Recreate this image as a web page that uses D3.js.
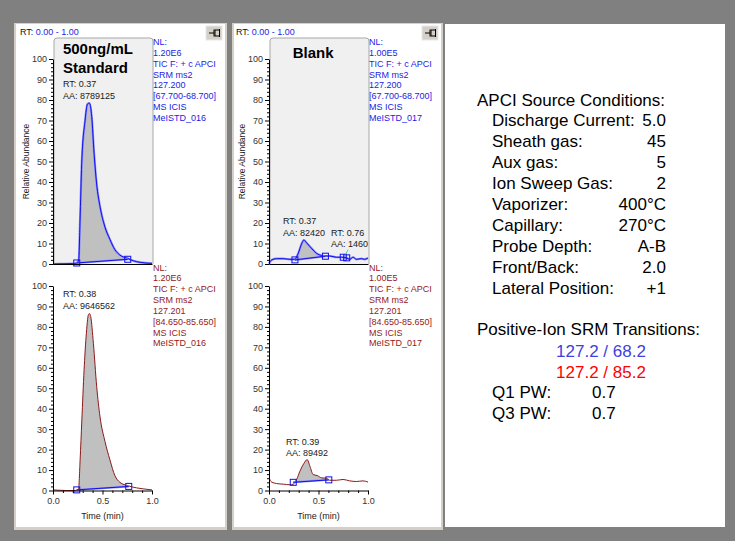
<!DOCTYPE html>
<html><head><meta charset="utf-8">
<script src="https://cdn.jsdelivr.net/npm/d3@7"></script>
<style>body{margin:0;background:#808080;} svg{display:block;font-family:Arial,"Liberation Sans",sans-serif;}</style>
</head><body><svg id="c" width="735" height="541"></svg>
<script>
// ---------- data ----------
const timeTicks = [0, 0.5, 1.0];
const timeMinor = [0.1,0.2,0.3,0.4,0.6,0.7,0.8,0.9];
const abundTicks = [0,10,20,30,40,50,60,70,80,90,100];
const abundMinor = [2,4,6,8,12,14,16,18,22,24,26,28,32,34,36,38,42,44,46,48,52,54,56,58,62,64,66,68,72,74,76,78,82,84,86,88,92,94,96,98];

// 500 ng/mL standard, 127.2 / 68.2
const std682Time  = [0,0.1,0.2,0.24,0.26,0.273,0.29,0.324,0.348,0.368,0.391,0.415,0.441,0.475,0.525,0.575,0.625,0.675,0.75,0.81,0.88,1.0];
const std682Abund = [0,0.1,0.2,0.5,2,21,49,70,78,78.5,72,54,39,28,18,12,7,4.4,2.8,1.6,0.8,0.3];
// 500 ng/mL standard, 127.2 / 85.2
const std852Time  = [0,0.14,0.224,0.258,0.274,0.291,0.314,0.334,0.358,0.368,0.381,0.408,0.441,0.475,0.525,0.575,0.625,0.676,0.759,0.843,0.91,1.0];
const std852Abund = [0.3,0,0,0.8,15,34,59,75,86,86.5,85,72,51,36,24,15,7.3,4,2.3,1.3,0.8,0.3];
// Blank, 127.2 / 68.2
const blank682Time  = [0,0.027,0.077,0.144,0.211,0.262,0.295,0.329,0.352,0.379,0.413,0.446,0.48,0.513,0.564,0.614,0.681,0.732,0.782,0.815,0.849,0.883,0.933,0.966,1.0];
const blank682Abund = [0.3,2,2.6,2.6,2.3,2.3,5.2,9.8,11.7,10.4,8.5,6.8,5.2,4.4,3.9,3.9,3.3,3.3,3,2.3,3.3,2.3,2.6,2.3,2.9];
// Blank, 127.2 / 85.2
const blank852Time  = [0,0.027,0.077,0.144,0.211,0.245,0.279,0.312,0.352,0.386,0.413,0.446,0.487,0.53,0.58,0.614,0.681,0.748,0.815,0.883,0.95,1.0];
const blank852Abund = [6.2,4.1,3.4,3.1,2.8,3.1,5.4,9.4,13.2,15.1,11.9,7.8,7.3,6.2,6,5,5,5.4,4.7,4.4,4.7,4.1];

// integrated peaks: [startTime, startAbund, endTime, endAbund]
const std682Peaks   = [[0.24,0.5,0.755,2.3]];
const std852Peaks   = [[0.24,0.3,0.765,2.0]];
const blank682Peaks = [[0.262,2.0,0.57,3.8],[0.75,3.3,0.785,3.0]];
const blank852Peaks = [[0.245,4.0,0.604,5.2]];

// peak annotations
const std682Labels   = [["RT: 0.37","AA: 8789125"]];
const std852Labels   = [["RT: 0.38","AA: 9646562"]];
const blank682Labels = [["RT: 0.37","AA: 82420"],["RT: 0.76","AA: 1460"]];
const blank852Labels = [["RT: 0.39","AA: 89492"]];
// annotation anchors in data units [time, abundance]
const std682LabelAt   = [[0.1,86.3]];
const std852LabelAt   = [[0.1,94.6]];
const blank682LabelAt = [[0.141,19.5],[0.626,13.7]];
const blank852LabelAt = [[0.172,22.4]];

const nlStd682   = ["NL:","1.20E6","TIC F: + c APCI","SRM ms2","127.200","[67.700-68.700]","MS  ICIS","MeISTD_016"];
const nlStd852   = ["NL:","1.20E6","TIC F: + c APCI","SRM ms2","127.201","[84.650-85.650]","MS  ICIS","MeISTD_016"];
const nlBlank682 = ["NL:","1.00E5","TIC F: + c APCI","SRM ms2","127.200","[67.700-68.700]","MS  ICIS","MeISTD_017"];
const nlBlank852 = ["NL:","1.00E5","TIC F: + c APCI","SRM ms2","127.201","[84.650-85.650]","MS  ICIS","MeISTD_017"];

const panelTitles = [["500ng/mL","Standard"],["Blank"]];
const rtRange = "0.00 - 1.00";

const condHeader = "APCI Source Conditions:";
const condLabels = ["Discharge Current:","Sheath gas:","Aux gas:","Ion Sweep Gas:","Vaporizer:","Capillary:","Probe Depth:","Front/Back:","Lateral Position:"];
const condValues = ["5.0","45","5","2","400°C","270°C","A-B","2.0","+1"];
const srmHeader = "Positive-Ion SRM Transitions:";
const srmTransitions = ["127.2 / 68.2","127.2 / 85.2"];
const pwLabels = ["Q1 PW:","Q3 PW:"];
const pwValues = ["0.7","0.7"];

// ---------- drawing ----------
const svg = d3.select("#c");
const BLUE = "#1010e8", LBLUE = "#8c8cff", RED = "#8b1a1a", NLBLUE = "#1c1ce6", NLRED = "#962020";

svg.append("rect").attr("width",735).attr("height",541).attr("fill","#808080");
// panel frames
function frame(x,y,w,h){
  svg.append("rect").attr("x",x-2).attr("y",y-1).attr("width",w+4).attr("height",h+4).attr("fill","#d4d0c8");
  svg.append("rect").attr("x",x).attr("y",y).attr("width",w).attr("height",h).attr("fill","#fff");
}
frame(16,24,209,503);
frame(234,24,207,503);
svg.append("rect").attr("x",445).attr("y",24).attr("width",280).attr("height",503).attr("fill","#fff");

function pin(x,y){
  const g = svg.append("g").attr("transform",`translate(${x},${y})`);
  g.append("rect").attr("width",16).attr("height",14).attr("fill","#d4d0c8").attr("stroke","#e8e8e8");
  g.append("line").attr("x1",3).attr("x2",8).attr("y1",7).attr("y2",7).attr("stroke","#000");
  g.append("line").attr("x1",8).attr("x2",8).attr("y1",3.5).attr("y2",10.5).attr("stroke","#000");
  g.append("rect").attr("x",9).attr("y",4).attr("width",4.5).attr("height",6).attr("fill","none").attr("stroke","#000");
  g.append("line").attr("x1",13.5).attr("x2",13.5).attr("y1",3).attr("y2",11).attr("stroke","#000");
}

function interp(T,V,t){
  for(let i=1;i<T.length;i++){ if(t<=T[i]){ const f=(t-T[i-1])/(T[i]-T[i-1]); return V[i-1]+f*(V[i]-V[i-1]); } }
  return V[V.length-1];
}

function chart(cfg){
  const x = d3.scaleLinear().domain([0,1]).range(cfg.xr);
  const y = d3.scaleLinear().domain([0,100]).range(cfg.yr);
  const g = svg.append("g");
  if(cfg.box){
    g.append("path").attr("d",`M${x(0)+1},${y(0)} V${cfg.box+3} q0,-3 3,-3 H${x(1)-2} q3,0 3,3 V${y(0)}`)
      .attr("fill","#f0f0f0").attr("stroke","#a8a8a8");
  }
  const pts = cfg.T.map((t,i)=>[t,cfg.V[i]]);
  // peak areas
  cfg.peaks.forEach(p=>{
    const [t0,v0,t1,v1] = p;
    const seg = [[t0,interp(cfg.T,cfg.V,t0)]].concat(pts.filter(d=>d[0]>t0&&d[0]<t1)).concat([[t1,interp(cfg.T,cfg.V,t1)]]);
    const base = t=> v0+(t-t0)/(t1-t0)*(v1-v0);
    g.append("path").datum(seg)
      .attr("d",d3.area().x(d=>x(d[0])).y0(d=>y(base(d[0]))).y1(d=>y(Math.max(d[1],base(d[0])))).curve(d3.curveMonotoneX))
      .attr("fill","#c0c0c0");
  });
  // trace
  const line = d3.line().x(d=>x(d[0])).y(d=>y(d[1])).curve(d3.curveMonotoneX);
  if(cfg.halo) g.append("path").datum(pts).attr("d",line).attr("fill","none").attr("stroke",cfg.halo).attr("stroke-width",2.2);
  g.append("path").datum(pts).attr("d",line).attr("fill","none").attr("stroke",cfg.color).attr("stroke-width",1);
  // baselines + markers
  cfg.peaks.forEach(p=>{
    const [t0,v0,t1,v1] = p;
    g.append("line").attr("x1",x(t0)).attr("y1",y(v0)).attr("x2",x(t1)).attr("y2",y(v1))
      .attr("stroke",LBLUE).attr("stroke-width",2);
    g.append("line").attr("x1",x(t0)).attr("y1",y(v0)).attr("x2",x(t1)).attr("y2",y(v1))
      .attr("stroke",BLUE).attr("stroke-width",1);
    [[t0,v0],[t1,v1]].forEach(m=>{
      g.append("rect").attr("x",x(m[0])-3).attr("y",y(m[1])-3).attr("width",6).attr("height",6)
        .attr("fill","none").attr("stroke",BLUE).attr("stroke-width",1);
    });
  });
  // axes
  const ya = g.append("g").attr("transform",`translate(${x(0)},0)`)
    .call(d3.axisLeft(y).tickValues(abundTicks).tickSize(4).tickPadding(2).tickSizeOuter(0));
  g.append("g").attr("transform",`translate(${x(0)},0)`)
    .call(d3.axisLeft(y).tickValues(abundMinor).tickSize(2).tickFormat("").tickSizeOuter(0))
    .select(".domain").remove();
  if(cfg.xlabels){
    g.append("g").attr("transform",`translate(0,${y(0)})`)
      .call(d3.axisBottom(x).tickValues(timeTicks).tickSize(4).tickPadding(3).tickSizeOuter(0).tickFormat(d3.format(".1f")));
    g.append("g").attr("transform",`translate(0,${y(0)})`)
      .call(d3.axisBottom(x).tickValues(timeMinor).tickSize(2.5).tickFormat("").tickSizeOuter(0))
      .select(".domain").remove();
    g.append("text").attr("x",(x(0)+x(1))/2).attr("y",y(0)+28).attr("text-anchor","middle")
      .attr("font-size",9).attr("fill","#222").text("Time (min)");
  } else {
    g.append("g").attr("transform",`translate(0,${y(0)})`)
      .call(d3.axisBottom(x).tickValues([]).tickSizeOuter(0));
  }
  g.selectAll(".tick text").attr("font-size",9).attr("font-family","Arial, 'Liberation Sans', sans-serif").attr("fill","#333");
  g.selectAll(".domain, .tick line").attr("stroke","#000");
  if(cfg.ylabel){
    g.append("text").attr("transform",`translate(${cfg.ylabel},${(y(0)+y(100))/2}) rotate(-90)`)
      .attr("text-anchor","middle").attr("font-size",8.5).attr("fill","#222").text("Relative Abundance");
  }
  // annotations
  cfg.labels.forEach((lb,i)=>{
    const a = cfg.labelAt[i];
    lb.forEach((s,j)=>{
      g.append("text").attr("x",x(a[0])).attr("y",y(a[1])+j*11.5).attr("font-size",9).attr("fill","#1a1a1a").text(s);
    });
  });
  // NL info
  cfg.nl.forEach((s,j)=>{
    g.append("text").attr("x",x(1)+1).attr("y",cfg.nlY+j*10.85).attr("font-size",9).attr("fill",cfg.nlColor).text(s);
  });
  return {x,y,g};
}

function panel(p){
  // header
  const h = svg.append("text").attr("x",p.hx).attr("y",35).attr("font-size",9);
  h.append("tspan").attr("fill","#111").text("RT: ");
  h.append("tspan").attr("fill",NLBLUE).text(rtRange);
  pin(p.pinx,26);
  const top = chart({xr:p.xr, yr:[264,59], box:38, T:p.T1, V:p.V1, color:BLUE, halo:LBLUE, peaks:p.P1,
    labels:p.L1, labelAt:p.A1, nl:p.N1, nlY:45, nlColor:NLBLUE, xlabels:false, ylabel:p.ylab});
  chart({xr:p.xr, yr:[490.5,286], T:p.T2, V:p.V2, color:RED, peaks:p.P2,
    labels:p.L2, labelAt:p.A2, nl:p.N2, nlY:270.5, nlColor:NLRED, xlabels:true});
  p.title.forEach((s,j)=>{
    svg.append("text").attr("x",top.x(p.titleT)).attr("y",p.titleY+j*19).attr("font-size",15).attr("font-weight","bold")
      .attr("fill","#000").text(s);
  });
  return top;
}

panel({hx:20, pinx:206, xr:[53,152], ylab:29, T1:std682Time, V1:std682Abund, P1:std682Peaks, L1:std682Labels, A1:std682LabelAt, N1:nlStd682,
  T2:std852Time, V2:std852Abund, P2:std852Peaks, L2:std852Labels, A2:std852LabelAt, N2:nlStd852, title:panelTitles[0], titleT:0.1, titleY:54});
const p2 = panel({hx:236, pinx:422, xr:[269,368], ylab:245, T1:blank682Time, V1:blank682Abund, P1:blank682Peaks, L1:blank682Labels, A1:blank682LabelAt, N1:nlBlank682,
  T2:blank852Time, V2:blank852Abund, P2:blank852Peaks, L2:blank852Labels, A2:blank852LabelAt, N2:nlBlank852, title:panelTitles[1], titleT:0.24, titleY:58});
// tiny green leader for the second blank peak
p2.g.append("line").attr("x1",p2.x(0.77)).attr("y1",p2.y(4.5)).attr("x2",p2.x(0.8)).attr("y2",p2.y(7)).attr("stroke","#4c4").attr("stroke-width",0.8);

// ---------- conditions text ----------
const t = svg.append("g").attr("font-size",17).attr("fill","#000");
t.append("text").attr("x",477).attr("y",106).text(condHeader);
condLabels.forEach((s,i)=>{
  t.append("text").attr("x",492).attr("y",126+i*21).text(s);
  t.append("text").attr("x",666).attr("y",126+i*21).attr("text-anchor","end").text(condValues[i]);
});
t.append("text").attr("x",477).attr("y",335).text(srmHeader);
const trCol = ["#4040e0","#ff0000"];
srmTransitions.forEach((s,i)=>{
  t.append("text").attr("x",601).attr("y",357+i*20.5).attr("text-anchor","middle").attr("fill",trCol[i]).text(s);
});
pwLabels.forEach((s,i)=>{
  t.append("text").attr("x",492).attr("y",398+i*20.5).text(s);
  t.append("text").attr("x",592).attr("y",398+i*20.5).text(pwValues[i]);
});
</script></body></html>
